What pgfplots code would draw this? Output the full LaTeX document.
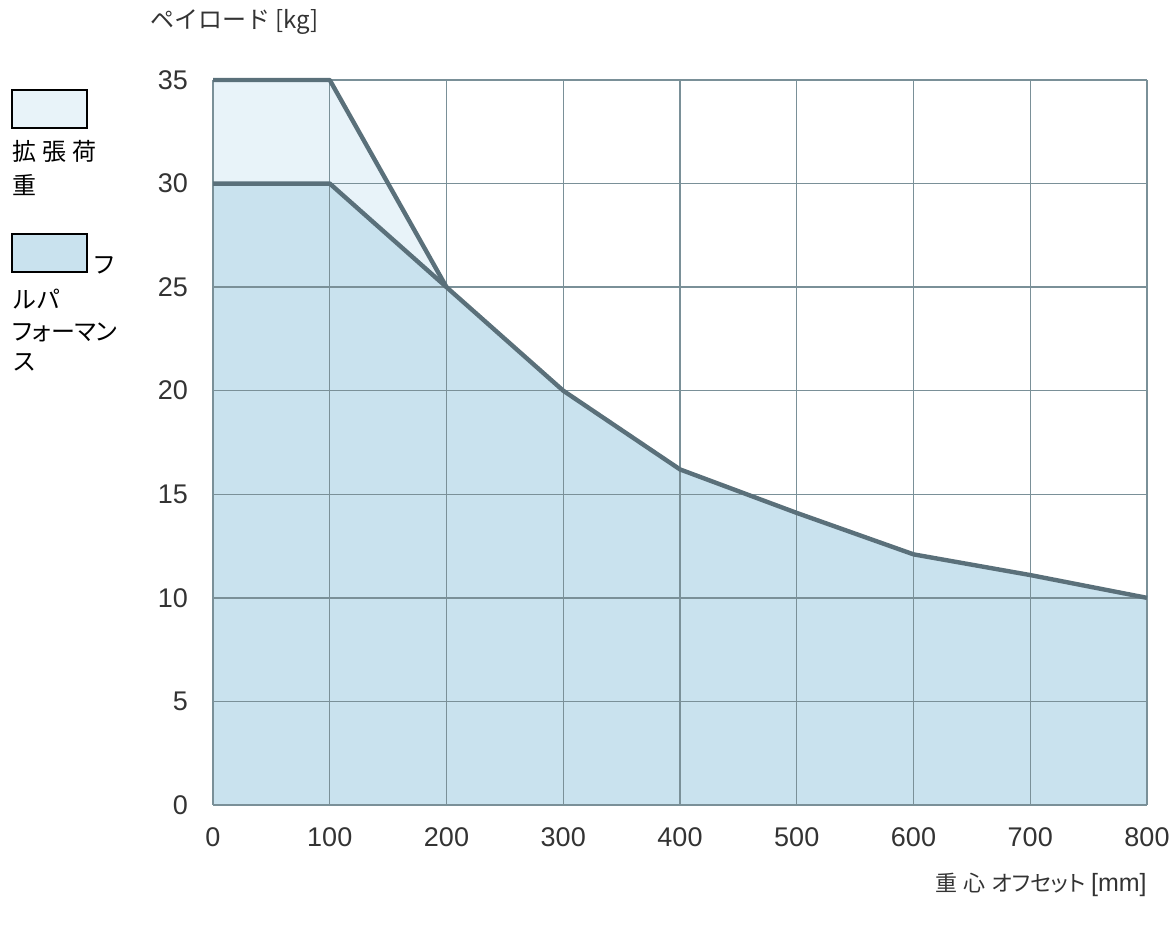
\documentclass[border=0pt]{standalone}
\usepackage{pgfplots}
\pgfplotsset{compat=1.18}
\usepackage{fontspec}
\setmainfont{Liberation Sans}
\newfontfamily\cjk{Noto Sans CJK JP}
\newfontfamily\cjkp[RawFeature=+palt]{Noto Sans CJK JP}
\definecolor{extfill}{HTML}{E8F3F9}
\definecolor{fullfill}{HTML}{C9E2EE}
\definecolor{linec}{HTML}{5A707A}
\definecolor{gridc}{HTML}{7A9098}
\definecolor{txt}{HTML}{333333}
\pgfplotsset{base/.style={
  at={(0pt,0pt)}, anchor=south west,
  scale only axis, width=467pt, height=362.5pt,
  xmin=0, xmax=800, ymin=0, ymax=35,
  xtick={0,100,...,800}, ytick={0,5,...,35},
  axis line style={draw=none},
  tick style={draw=none},
  clip=false,
}}
\begin{document}
\begin{tikzpicture}
\useasboundingbox (-106.5pt,-62pt) rectangle (481.5pt,402.5pt);
\begin{axis}[base,
  grid=major,
  major grid style={gridc, line width=0.7pt},
  axis on top,
  ticklabel style={font=\fontsize{13.5}{15}\selectfont, text=txt},
  /pgf/number format/assume math mode=true,
  xticklabel style={yshift=-8pt},
  yticklabel style={xshift=-9pt},
]
\addplot[draw=none, fill=extfill] coordinates {(0,0) (0,35) (100,35) (200,25) (300,20) (400,16.2) (500,14.1) (600,12.1) (700,11.1) (800,10) (800,0)} \closedcycle;
\addplot[draw=none, fill=fullfill] coordinates {(0,0) (0,30) (100,30) (200,25) (300,20) (400,16.2) (500,14.1) (600,12.1) (700,11.1) (800,10) (800,0)} \closedcycle;
\end{axis}
\begin{axis}[base, xticklabels={}, yticklabels={}]
\addplot[linec, line width=2.2pt, line join=round] coordinates {(0,35) (100,35) (200,25)};
\addplot[linec, line width=2.2pt, line join=round] coordinates {(0,30) (100,30) (200,25) (300,20) (400,16.2) (500,14.1) (600,12.1) (700,11.1) (800,10)};
\end{axis}
\begin{scope}[x=0.5pt,y=0.5pt]
% axis titles
\node[anchor=west, text=txt, font=\cjk\fontsize{12}{14}\selectfont, inner sep=0pt] at (-63,783) {ペイロード [kg]};
\node[anchor=east, text=txt, inner sep=0pt] at (934,-80) {{\cjkp\fontsize{11}{14}\selectfont 重\hspace{3pt}心\hspace{3pt}オフセット} {\fontsize{12.5}{14}\selectfont[mm]}};
% legend
\tikzset{lg/.style={anchor=west, text=black, font=\cjk\fontsize{12}{16}\selectfont, inner sep=0pt}}
\draw[fill=extfill, draw=black, line width=0.6pt] (-201,677) rectangle (-126,715);
\node[lg] at (-201,654) {拡\hspace{3pt}張\hspace{3pt}荷};
\node[lg] at (-201,620) {重};
\draw[fill=fullfill, draw=black, line width=0.6pt] (-201,533) rectangle (-126,571);
\node[lg] at (-121,540) {フ};
\node[lg] at (-201,506) {ルパ};
\node[lg, font=\cjkp\fontsize{12}{16}\selectfont] at (-201,473) {フォーマン};
\node[lg] at (-201,443) {ス};
\end{scope}
\end{tikzpicture}
\end{document}
